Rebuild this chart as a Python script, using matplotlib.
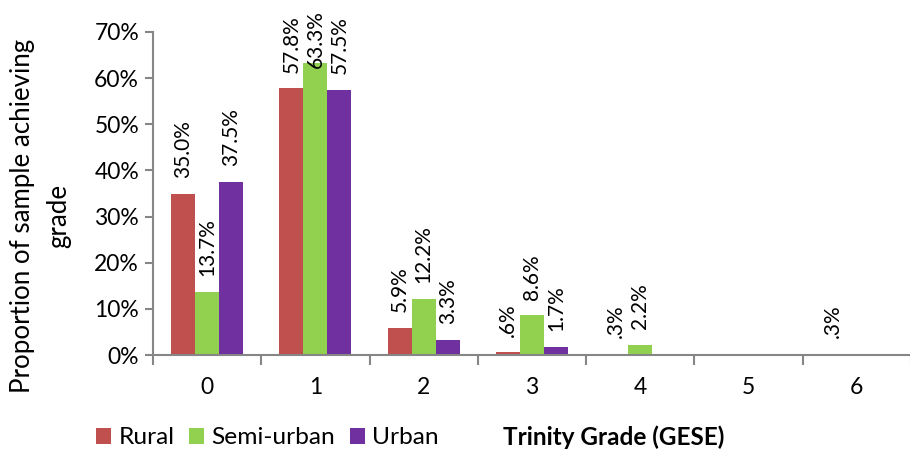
import numpy as np
import matplotlib
matplotlib.use("Agg")
import matplotlib.pyplot as plt
from matplotlib.ticker import FixedLocator, FuncFormatter

plt.rcParams["font.family"] = ["Lato", "DejaVu Sans"]

# ---------- data -------------------------------------------------------------
grades = ["0", "1", "2", "3", "4", "5", "6"]
rural = [35.0, 57.8, 5.9, 0.6, 0.3, 0.0, 0.3]
semi_urban = [13.7, 63.3, 12.2, 8.6, 2.2, 0.0, 0.0]
urban = [37.5, 57.5, 3.3, 1.7, 0.0, 0.0, 0.0]
series_names = ["Rural", "Semi-urban", "Urban"]
colors = ["#C0504D", "#92D050", "#7030A0"]

W, H = 910, 450


def fmt_label(v):
    s = f"{v:.1f}%"
    return s[1:] if s.startswith("0") else s


def fit_size(txt, target_px, use_height=False):
    """Scale a text's font size so its rendered extent matches target_px."""
    fig.canvas.draw()
    bb = txt.get_window_extent()
    cur = bb.height if use_height else bb.width
    return txt.get_fontsize() * target_px / cur


fig = plt.figure(figsize=(W / 100, H / 100), dpi=100)
ax = fig.add_axes([153 / W, 1 - 355 / H, 758 / W, 323 / H])

x = np.arange(len(grades))
width = 0.222
handles = []
labels_txt = []
for i, (vals, name, col) in enumerate(zip([rural, semi_urban, urban], series_names, colors)):
    pos = x + (i - 1) * width
    h = ax.bar(pos, vals, width=width, color=col, label=name, linewidth=0)
    handles.append(h)
    for px, v in zip(pos, vals):
        if v <= 0:
            continue
        t = ax.text(px, min(v + 3.4, 62.2), fmt_label(v), rotation=90,
                    ha="center", va="bottom", fontsize=15, color="#000000")
        labels_txt.append((v, t))

ax.set_xlim(-0.5, len(grades) - 0.5)
ax.set_ylim(0, 70)
ax.set_yticks(np.arange(0, 71, 10))
ax.yaxis.set_major_formatter(FuncFormatter(lambda v, _: f"{int(v)}%"))

ax.xaxis.set_major_locator(FixedLocator(np.arange(-0.5, len(grades), 1.0)))
ax.xaxis.set_minor_locator(FixedLocator(x))
ax.xaxis.set_major_formatter(FuncFormatter(lambda v, _: ""))
ax.set_xticklabels(grades, minor=True)
ax.tick_params(axis="x", which="major", length=7, width=1.5, color="#868686", direction="out")
ax.tick_params(axis="x", which="minor", length=0, pad=16, labelsize=13)
ax.tick_params(axis="y", length=6, width=1.5, color="#868686", labelsize=16, pad=4)

for s in ["top", "right"]:
    ax.spines[s].set_visible(False)
for s in ["left", "bottom"]:
    ax.spines[s].set_color("#868686")
    ax.spines[s].set_linewidth(1.5)

# ---- size fitting against the reference's measured text extents ----
ytl = ax.get_yticklabels()[-1]
tick_size = fit_size(ytl, 45)
ax.tick_params(axis="y", labelsize=tick_size)
ax.tick_params(axis="x", which="minor", labelsize=tick_size)

ref_lab = [t for v, t in labels_txt if abs(v - 35.0) < 1e-6][0]
lab_size = fit_size(ref_lab, 58, use_height=True)
for v, t in labels_txt:
    t.set_fontsize(lab_size)

ylab = fig.text(0, 0, "Proportion of sample achieving", rotation=90, fontsize=18)
ylab_size = fit_size(ylab, 352, use_height=True)
ylab.remove()
fig.text(23 / W, 1 - 216 / H, "Proportion of sample achieving", rotation=90,
         ha="center", va="center", fontsize=ylab_size)
fig.text(59 / W, 1 - 216 / H, "grade", rotation=90,
         ha="center", va="center", fontsize=ylab_size)

title = fig.text(614 / W, 1 - 437 / H, "Trinity Grade (GESE)", ha="center", va="center",
                 fontsize=16, fontweight="bold")
title.set_fontsize(fit_size(title, 222))

probe = fig.text(0, 0, "Semi-urban", fontsize=16)
leg_size = fit_size(probe, 124)
probe.remove()
sq = 15 / (leg_size * 100 / 72)
fig.legend(handles=handles, labels=series_names, loc="center left",
           bbox_to_anchor=(96 / W, 1 - 438 / H), ncol=3, frameon=False, fontsize=leg_size,
           handlelength=sq, handleheight=sq, handletextpad=0.3, columnspacing=0.6,
           borderaxespad=0, borderpad=0)

fig.savefig("out.png", dpi=100)
